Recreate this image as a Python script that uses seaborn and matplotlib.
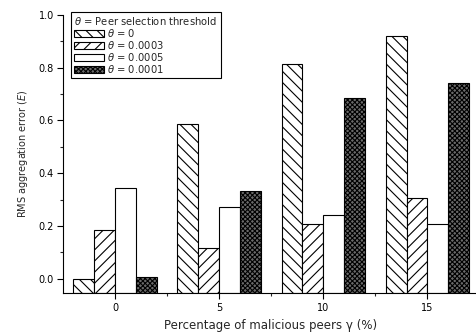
import matplotlib
matplotlib.use("Agg")
import matplotlib.pyplot as plt
import seaborn as sns
import pandas as pd
from matplotlib.ticker import MultipleLocator

sns.set_style("ticks")
plt.rcParams['font.family'] = ['DejaVu Sans']
plt.rcParams['mathtext.fontset'] = 'dejavusans'
plt.rcParams['hatch.linewidth'] = 0.8

# ---- data ----
gamma = [0, 5, 10, 15]
theta_labels = [r"$\theta$ = 0", r"$\theta$ = 0.0003", r"$\theta$ = 0.0005", r"$\theta$ = 0.0001"]
err_theta_0 = [0.0, 0.586, 0.814, 0.919]
err_theta_0003 = [0.184, 0.117, 0.208, 0.306]
err_theta_0005 = [0.342, 0.271, 0.243, 0.208]
err_theta_0001 = [0.006, 0.333, 0.686, 0.742]
series = [err_theta_0, err_theta_0003, err_theta_0005, err_theta_0001]

rows = []
for lab, vals in zip(theta_labels, series):
    for g, v in zip(gamma, vals):
        rows.append({"gamma": g, "err": v, "theta": lab})
df = pd.DataFrame(rows)

hatches = ['\\\\\\', '///', '', 'xxxxxxx']
faces = ['white', 'white', 'white', '#6a6a6a']

fig = plt.figure(figsize=(4.77, 3.35), dpi=100)
ax = fig.add_axes([63.5/477, 41.7/335, 413.9/477, 278.6/335])

palette = dict(zip(theta_labels, faces))
sns.barplot(data=df, x="gamma", y="err", hue="theta", hue_order=theta_labels,
            native_scale=True, width=0.8, dodge=True, errorbar=None,
            palette=palette, edgecolor='black', linewidth=0.8, saturation=1,
            legend=False, ax=ax)

ymin = -0.055
for cont, h, fc in zip(ax.containers, hatches, faces):
    for p in cont.patches:
        top = p.get_y() + p.get_height()
        p.set_y(ymin)
        p.set_height(top - ymin)
        p.set_hatch(h)
        p.set_facecolor(fc)
        p.set_edgecolor('black')

ax.set_ylim(ymin, 1.0)
ax.set_xlim(-2.47, 17.4)
ax.set_xticks(gamma)
ax.set_xticklabels([str(g) for g in gamma])
ax.xaxis.set_minor_locator(MultipleLocator(2.5))
ax.yaxis.set_major_locator(MultipleLocator(0.2))
ax.yaxis.set_minor_locator(MultipleLocator(0.1))
ax.set_yticklabels([f"{t:.1f}" for t in ax.get_yticks()])
ax.tick_params(which='major', direction='out', length=4, width=0.8, labelsize=7, pad=3, colors='black')
ax.tick_params(which='minor', direction='out', length=2, width=0.8)
for s in ['top', 'right']:
    ax.spines[s].set_visible(False)
for s in ['left', 'bottom']:
    ax.spines[s].set_linewidth(0.8)
    ax.spines[s].set_color('black')

ax.set_xlabel("Percentage of malicious peers γ (%)", fontsize=8.5, labelpad=4)
ax.set_ylabel(r"RMS aggregation error ($\it{E}$)", fontsize=7, labelpad=6)

handles = [c.patches[0] for c in ax.containers]
leg = ax.legend(handles, theta_labels, title=r"$\theta$ = Peer selection threshold",
                loc='upper left', bbox_to_anchor=(8/413.9, 1.01), fontsize=7.2, title_fontsize=7.2,
                frameon=True, fancybox=False, edgecolor='black', framealpha=1,
                handlelength=3.0, handleheight=0.6, labelspacing=0.0, handletextpad=0.3,
                borderpad=0.3, borderaxespad=0.0)
leg._legend_box.align = "left"
leg.get_frame().set_linewidth(0.8)

fig.savefig("out.png", dpi=100)
